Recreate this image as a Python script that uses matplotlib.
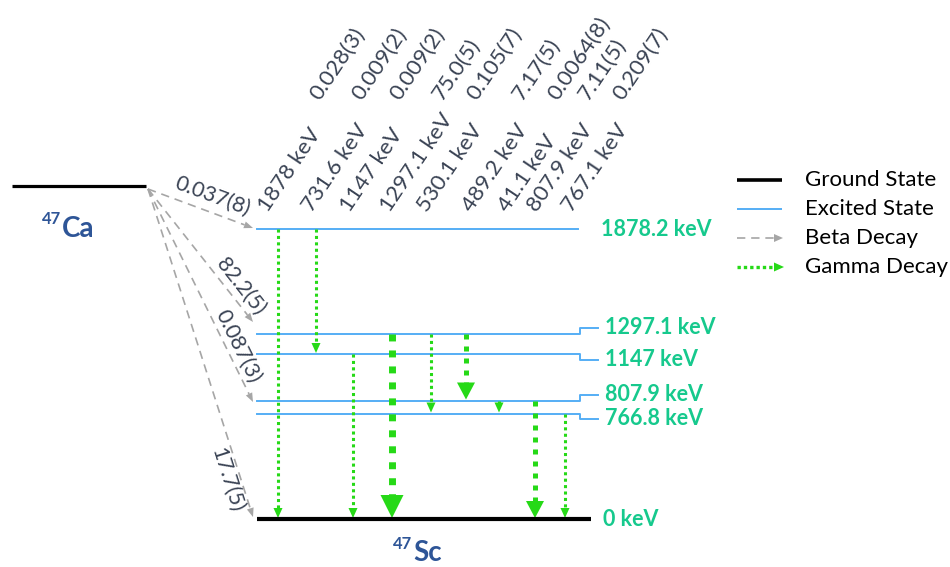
import matplotlib
matplotlib.use("Agg")
import matplotlib.pyplot as plt
import numpy as np

# ---- data -------------------------------------------------------------
# Energy levels of 47Sc (keV)
level_energies = [1878.2, 1297.1, 1147.0, 807.9, 766.8, 0.0]
level_labels = ["1878.2 keV", "1297.1 keV", "1147 keV", "807.9 keV", "766.8 keV", "0 keV"]

# Beta branches of 47Ca: target level and branching (%)
beta_targets = [1878.2, 1297.1, 807.9, 0.0]
beta_labels = ["0.037(8)", "82.2(5)", "0.087(3)", "17.7(5)"]

# Gamma transitions: initial level, final level, energy label, intensity (%)
gamma_from = [1878.2, 1878.2, 1147.0, 1297.1, 1297.1, 1297.1, 807.9, 807.9, 766.8]
gamma_to = [0.0, 1147.0, 0.0, 0.0, 766.8, 807.9, 766.8, 0.0, 0.0]
gamma_energy_labels = ["1878 keV", "731.6 keV", "1147 keV", "1297.1 keV", "530.1 keV",
                       "489.2 keV", "41.1 keV", "807.9 keV", "767.1 keV"]
gamma_intensity_labels = ["0.028(3)", "0.009(2)", "0.009(2)", "75.0(5)", "0.105(7)",
                          "7.17(5)", "0.0064(8)", "7.11(5)", "0.209(7)"]
gamma_intensity = [0.028, 0.009, 0.009, 75.0, 0.105, 7.17, 0.0064, 7.11, 0.209]

legend_labels = ["Ground State", "Excited State", "Beta Decay", "Gamma Decay"]

# ---- layout of the schematic (drawing units = pixels) -----------------
level_row = {1878.2: 229, 1297.1: 334, 1147.0: 354, 807.9: 400.5, 766.8: 413.5, 0.0: 519}
level_jog = {1878.2: 0, 1297.1: -6, 1147.0: 6, 807.9: -6, 766.8: 5, 0.0: 0}
level_x0, level_x1, jog_x1 = 257, 580, 598
gamma_cols = [278, 316, 353, 392, 431, 466, 499, 535, 565]
energy_label_x = [268, 312, 350, 390, 427, 472, 508, 537, 572]
intensity_label_x = [320, 362, 400, 442, 477, 522, 558, 588, 623]
parent_row, parent_x0, parent_x1 = 186, 12, 146
beta_start = (148, 189)
beta_end_x = 253
beta_end_dy = [-1, -12, 1.5, -2]
beta_label_t = [0.56, 0.79, 0.76, 0.875]
beta_label_off = [16, 12, 11, -13]

GREEN = "#26d917"
BLUE = "#55aef5"
TEAL = "#16c98d"
NAVY = "#2e5597"
DARK = "#3a4354"
GREY = "#a6a6a6"

plt.rcParams["font.family"] = ["Lato", "DejaVu Sans"]

fig = plt.figure(figsize=(9.5, 5.67), dpi=100)
ax = fig.add_axes([0, 0, 1, 1])
ax.set_xlim(0, 950)
ax.set_ylim(567, 0)
ax.axis("off")


def arrow(x0, y0, x1, y1, lw, dash, color, hl, hw):
    d = np.array([x1 - x0, y1 - y0], dtype=float)
    u = d / np.hypot(*d)
    n = np.array([-u[1], u[0]])
    tip = np.array([x1, y1], dtype=float)
    base = tip - u * hl
    ax.plot([x0, base[0]], [y0, base[1]], color=color, lw=lw,
            linestyle=(0, dash), dash_capstyle="butt", solid_capstyle="butt")
    tri = np.array([tip, base + n * hw / 2, base - n * hw / 2])
    ax.fill(tri[:, 0], tri[:, 1], color=color, lw=0)


# parent level
ax.plot([parent_x0, parent_x1], [parent_row, parent_row], color="black", lw=2.3,
        solid_capstyle="butt")
ax.text(42, 219, "47", fontsize=12, fontweight="bold", color=NAVY, ha="left", va="center")
ax.text(62, 237, "Ca", fontsize=20, fontweight="bold", color=NAVY, ha="left", va="baseline")

# daughter levels
LVL_FS = 15.5
for e, lab in zip(level_energies, level_labels):
    y = level_row[e]
    jog = level_jog[e]
    if e == 0.0:
        ax.plot([level_x0, 591], [y, y], color="black", lw=3.0, solid_capstyle="butt")
        ax.text(603, y, lab, fontsize=LVL_FS, fontweight="bold", color=TEAL,
                ha="left", va="center")
    elif jog == 0:
        ax.plot([level_x0, 578], [y, y], color=BLUE, lw=1.4)
        ax.text(601, y, lab, fontsize=LVL_FS, fontweight="bold", color=TEAL,
                ha="left", va="center")
    else:
        ax.plot([level_x0, level_x1, level_x1, jog_x1], [y, y, y + jog, y + jog],
                color=BLUE, lw=1.4)
        ax.text(605, y + jog, lab, fontsize=LVL_FS, fontweight="bold", color=TEAL,
                ha="left", va="center")

ax.text(393, 544, "47", fontsize=12, fontweight="bold", color=NAVY, ha="left", va="center")
ax.text(413, 561, "Sc", fontsize=20, fontweight="bold", color=NAVY, ha="left", va="baseline")

# beta branches
for tgt, lab, dy, t, off in zip(beta_targets, beta_labels, beta_end_dy,
                                beta_label_t, beta_label_off):
    x0, y0 = beta_start
    x1, y1 = beta_end_x, level_row[tgt] + dy
    arrow(x0, y0, x1, y1, 1.2, (5, 3.5), GREY, 9, 7)
    d = np.array([x1 - x0, y1 - y0])
    u = d / np.hypot(*d)
    n = np.array([u[1], -u[0]])
    p = np.array([x0, y0]) + d * t + n * off
    ang = -np.degrees(np.arctan2(d[1], d[0]))
    ax.text(p[0], p[1], lab, fontsize=15.5, color=DARK, rotation=ang,
            rotation_mode="anchor", ha="center", va="center")

# gamma transitions, drawn heavier for stronger lines
for i, (ef, et, inten) in enumerate(zip(gamma_from, gamma_to, gamma_intensity)):
    x = gamma_cols[i]
    y0, y1 = level_row[ef], level_row[et] - 1
    if inten > 50:
        lw, dash, hl, hw = 5.0, (1.0, 1.3), 23, 23
    elif inten > 1:
        lw, dash, hl, hw = 3.6, (1.0, 1.4), 17, 18
    else:
        lw, dash, hl, hw = 2.2, (1.0, 1.1), 10, 9
    arrow(x, y0, x, y1, lw, dash, GREEN, hl, hw)
    ax.text(energy_label_x[i], 213, gamma_energy_labels[i], fontsize=16, color=DARK,
            rotation=56, rotation_mode="anchor", ha="left", va="baseline")
    ax.text(intensity_label_x[i], 101, gamma_intensity_labels[i], fontsize=16, color=DARK,
            rotation=56, rotation_mode="anchor", ha="left", va="baseline")

# key
key_rows = [180, 209, 238, 267]
ax.plot([737, 782], [key_rows[0]] * 2, color="black", lw=2.6, solid_capstyle="butt")
ax.plot([737, 782], [key_rows[1]] * 2, color=BLUE, lw=1.4, solid_capstyle="butt")
arrow(737, key_rows[2], 783, key_rows[2], 1.2, (5, 3.5), GREY, 9, 8)
arrow(737, key_rows[3], 784, key_rows[3], 2.4, (1.0, 0.9), GREEN, 10, 9)
for y, lab in zip(key_rows, legend_labels):
    ax.text(805, y, lab, fontsize=16, color="black", ha="left", va="center")

fig.savefig("out.png", dpi=100)
